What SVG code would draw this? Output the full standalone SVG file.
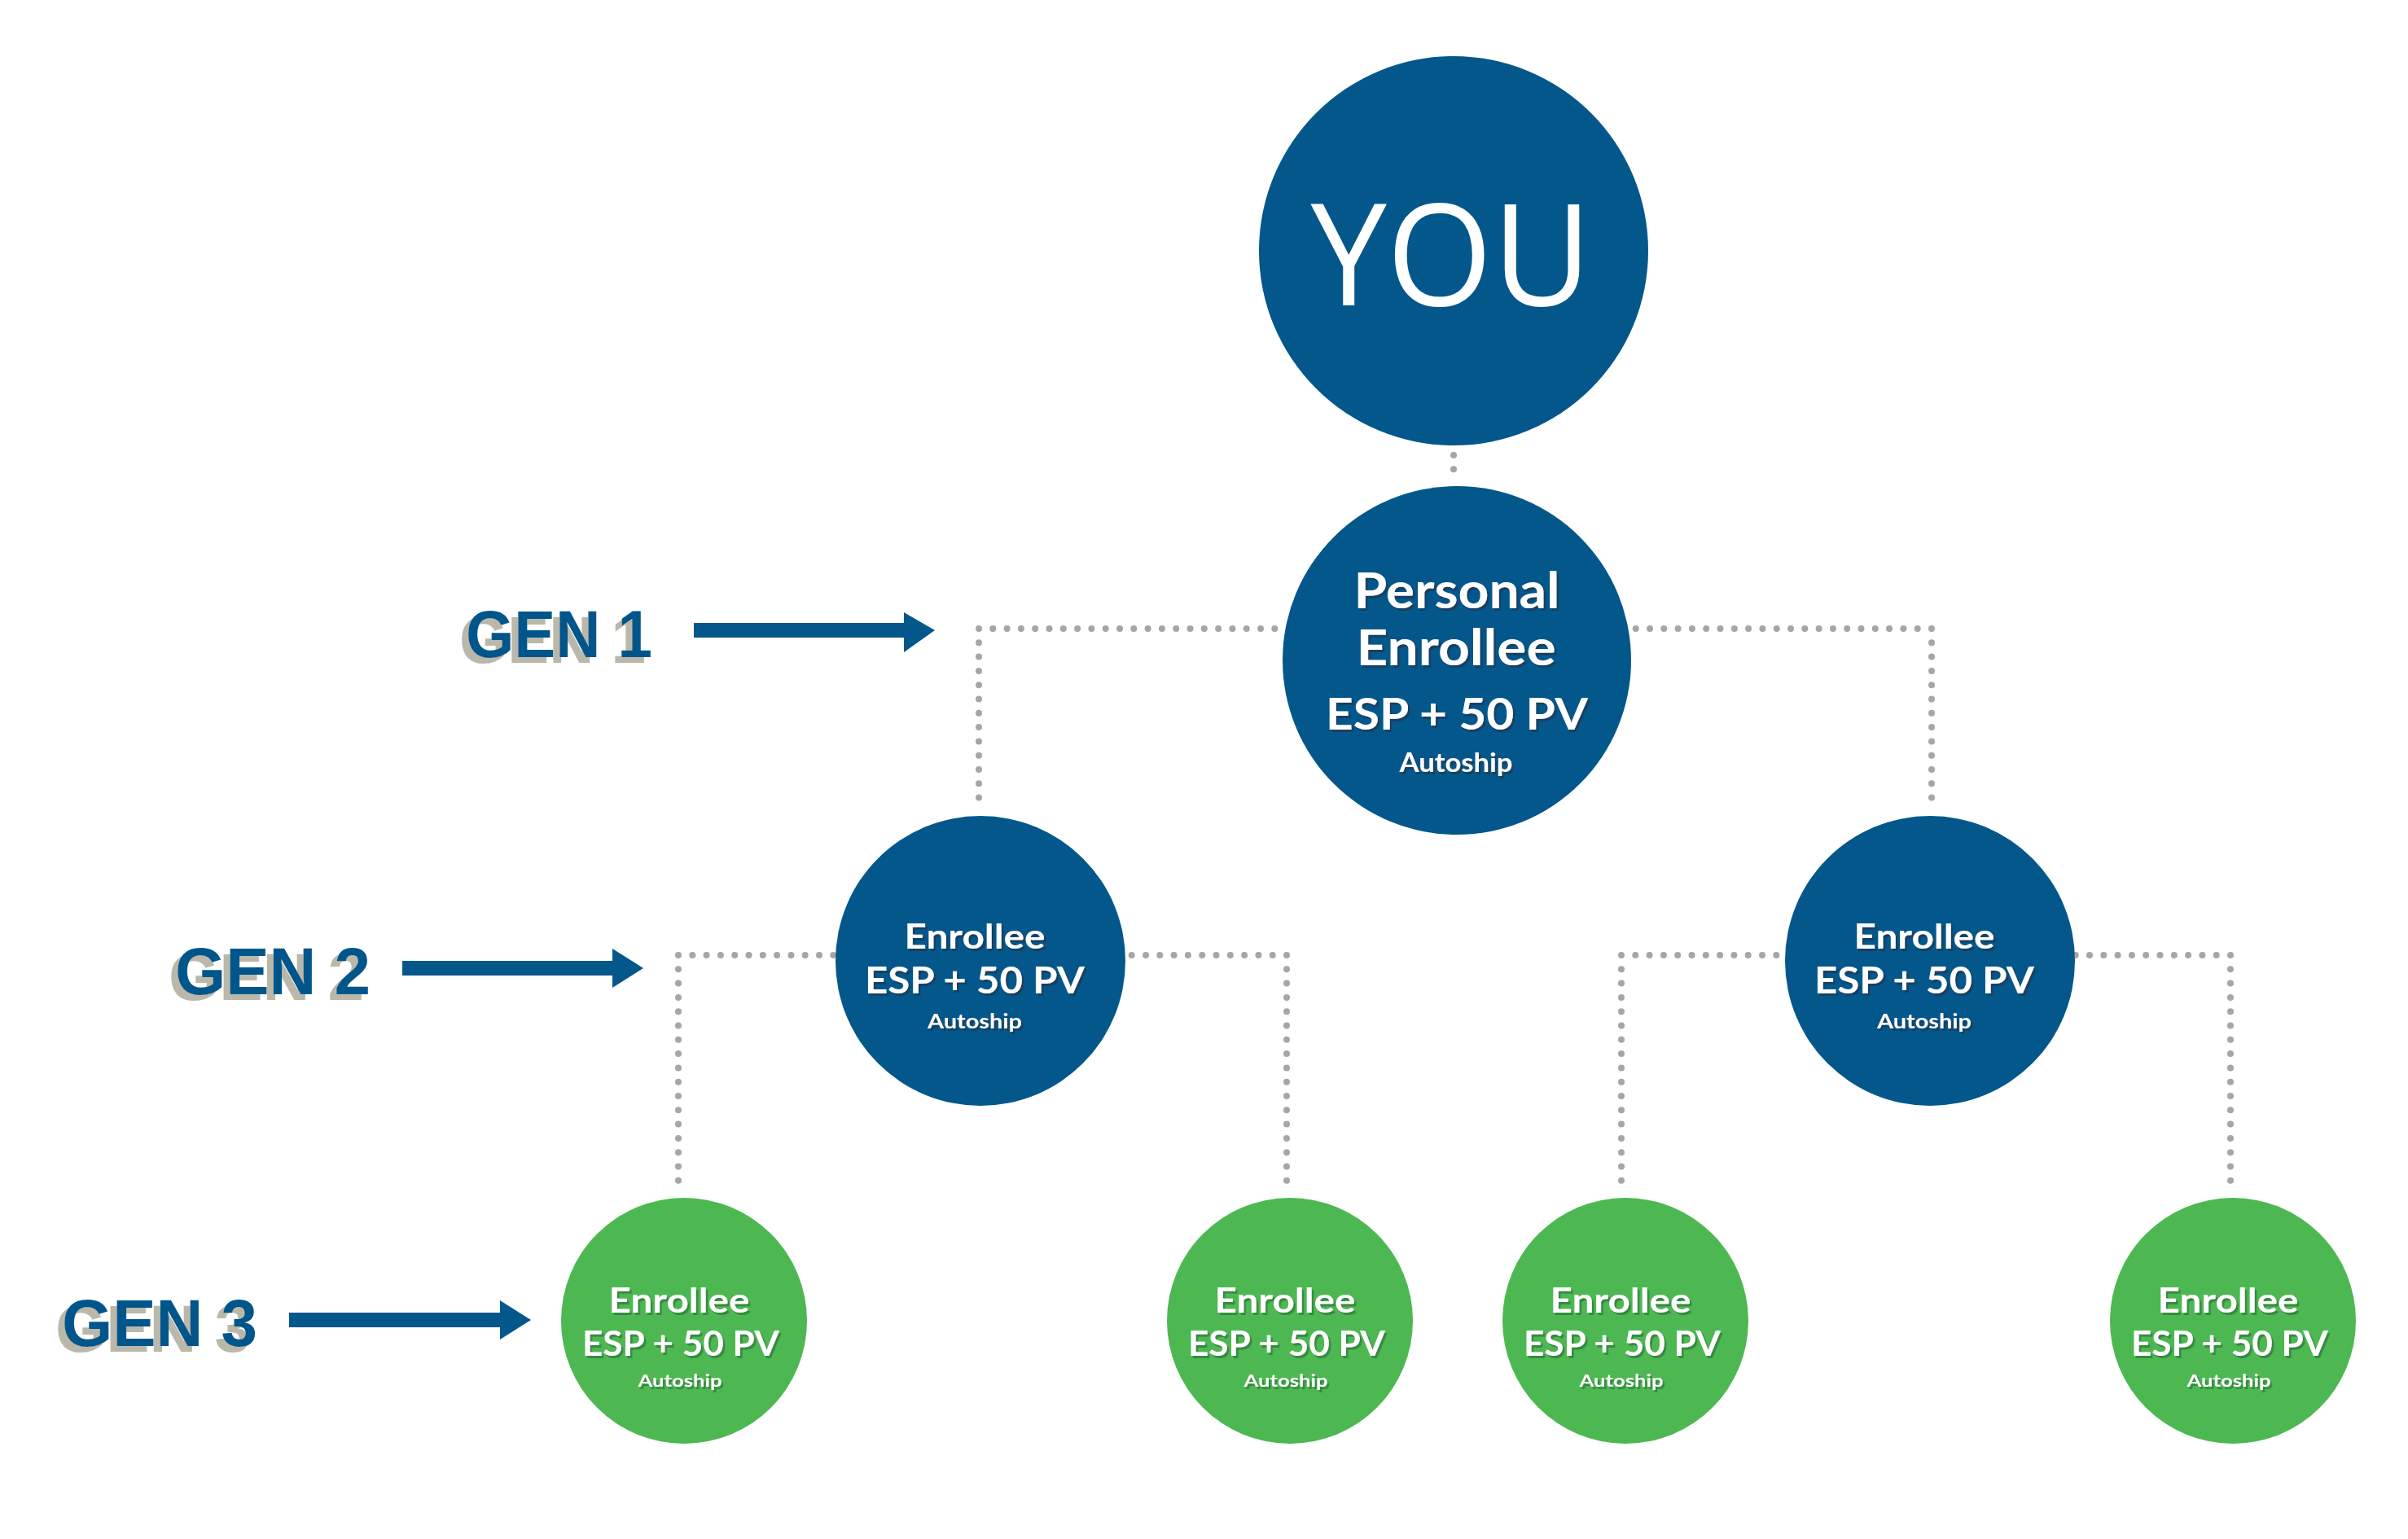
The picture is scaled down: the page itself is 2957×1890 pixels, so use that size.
<svg xmlns="http://www.w3.org/2000/svg" width="2957" height="1890" viewBox="0 0 2957 1890">
<defs>
<filter id="genShadow" x="-20%" y="-20%" width="140%" height="160%">
<feDropShadow dx="-8" dy="7" stdDeviation="0" flood-color="#b9b8aa" flood-opacity="1"/>
</filter>
<filter id="blueShadow" x="-10%" y="-20%" width="120%" height="160%">
<feDropShadow dx="2.5" dy="3" stdDeviation="0.4" flood-color="#123f63" flood-opacity="1"/>
</filter>
<filter id="greenShadow" x="-10%" y="-20%" width="120%" height="160%">
<feDropShadow dx="2.5" dy="3" stdDeviation="0.4" flood-color="#358a3f" flood-opacity="1"/>
</filter>
</defs>
<style>
.blue{fill:#03578b}
.green{fill:#4db852}
.dots{fill:none;stroke:#a7a5a7;stroke-width:8;stroke-linecap:round;stroke-dasharray:0 17.3}
.gen{font-family:"Liberation Sans",Arial,sans-serif;font-weight:700;font-size:82px;fill:#03578b}
.t{font-family:Lato,"Liberation Sans",sans-serif;font-weight:700;fill:#ffffff;text-anchor:middle}
.you{font-family:"Open Sans","Liberation Sans",sans-serif;font-weight:400;font-size:175px;fill:#ffffff;text-anchor:middle}
</style>
<rect width="2957" height="1890" fill="#ffffff"/>

<g id="connectors">
<path class="dots" d="M1785 559 V593"/>
<path class="dots" d="M1202 772 H1590 M1202 772 V996"/>
<path class="dots" d="M2372 772 H1990 M2372 772 V996"/>
<path class="dots" d="M833 1173 H1040 M833 1173 V1462"/>
<path class="dots" d="M1580 1173 H1370 M1580 1173 V1462"/>
<path class="dots" d="M1991 1173 H2205 M1991 1173 V1462"/>
<path class="dots" d="M2739 1173 H2535 M2739 1173 V1462"/>
</g>

<g id="gen-labels">
<g id="gen1">
<text class="gen" x="572" y="807" textLength="229" lengthAdjust="spacingAndGlyphs" filter="url(#genShadow)">GEN 1</text>
<polygon class="blue" points="852,765 1110,765 1110,752 1148,774 1110,801 1110,783 852,783"/>
</g>
<g id="gen2">
<text class="gen" x="215" y="1221" textLength="240" lengthAdjust="spacingAndGlyphs" filter="url(#genShadow)">GEN 2</text>
<polygon class="blue" points="494,1180 752,1180 752,1165 790,1189 752,1213 752,1198 494,1198"/>
</g>
<g id="gen3">
<text class="gen" x="76" y="1653" textLength="240" lengthAdjust="spacingAndGlyphs" filter="url(#genShadow)">GEN 3</text>
<polygon class="blue" points="355,1612 614,1612 614,1597 652,1621 614,1645 614,1630 355,1630"/>
</g>
</g>

<g id="node-you">
<circle class="blue" cx="1785" cy="308" r="239"/>
<text class="you" x="1782" y="375" textLength="345" lengthAdjust="spacingAndGlyphs">YOU</text>
</g>

<g id="node-personal">
<circle class="blue" cx="1789" cy="811" r="214"/>
<g filter="url(#blueShadow)">
<text class="t" x="1789" y="747" font-size="62" textLength="253" lengthAdjust="spacingAndGlyphs">Personal</text>
<text class="t" x="1788" y="817" font-size="62" textLength="245" lengthAdjust="spacingAndGlyphs">Enrollee</text>
<text class="t" x="1789" y="896" font-size="54" textLength="322" lengthAdjust="spacingAndGlyphs">ESP + 50 PV</text>
<text class="t" x="1788" y="948" font-size="32" textLength="139" lengthAdjust="spacingAndGlyphs">Autoship</text>
</g>
</g>

<g id="node-gen2-left">
<circle class="blue" cx="1204" cy="1180" r="178"/>
<g filter="url(#blueShadow)">
<text class="t" x="1197" y="1165" font-size="42" textLength="173" lengthAdjust="spacingAndGlyphs">Enrollee</text>
<text class="t" x="1197" y="1220" font-size="45" textLength="270" lengthAdjust="spacingAndGlyphs">ESP + 50 PV</text>
<text class="t" x="1197" y="1263" font-size="25" textLength="116" lengthAdjust="spacingAndGlyphs">Autoship</text>
</g>
</g>

<g id="node-gen2-right">
<circle class="blue" cx="2370" cy="1180" r="178"/>
<g filter="url(#blueShadow)">
<text class="t" x="2363" y="1165" font-size="42" textLength="173" lengthAdjust="spacingAndGlyphs">Enrollee</text>
<text class="t" x="2363" y="1220" font-size="45" textLength="270" lengthAdjust="spacingAndGlyphs">ESP + 50 PV</text>
<text class="t" x="2363" y="1263" font-size="25" textLength="116" lengthAdjust="spacingAndGlyphs">Autoship</text>
</g>
</g>

<g id="node-gen3-1">
<circle class="green" cx="840" cy="1622" r="151"/>
<g filter="url(#greenShadow)">
<text class="t" x="834" y="1612" font-size="42" textLength="173" lengthAdjust="spacingAndGlyphs">Enrollee</text>
<text class="t" x="836" y="1665" font-size="42" textLength="242" lengthAdjust="spacingAndGlyphs">ESP + 50 PV</text>
<text class="t" x="835" y="1703" font-size="21" textLength="103" lengthAdjust="spacingAndGlyphs">Autoship</text>
</g>
</g>

<g id="node-gen3-2">
<circle class="green" cx="1584" cy="1622" r="151"/>
<g filter="url(#greenShadow)">
<text class="t" x="1578" y="1612" font-size="42" textLength="173" lengthAdjust="spacingAndGlyphs">Enrollee</text>
<text class="t" x="1580" y="1665" font-size="42" textLength="242" lengthAdjust="spacingAndGlyphs">ESP + 50 PV</text>
<text class="t" x="1579" y="1703" font-size="21" textLength="103" lengthAdjust="spacingAndGlyphs">Autoship</text>
</g>
</g>

<g id="node-gen3-3">
<circle class="green" cx="1996" cy="1622" r="151"/>
<g filter="url(#greenShadow)">
<text class="t" x="1990" y="1612" font-size="42" textLength="173" lengthAdjust="spacingAndGlyphs">Enrollee</text>
<text class="t" x="1992" y="1665" font-size="42" textLength="242" lengthAdjust="spacingAndGlyphs">ESP + 50 PV</text>
<text class="t" x="1991" y="1703" font-size="21" textLength="103" lengthAdjust="spacingAndGlyphs">Autoship</text>
</g>
</g>

<g id="node-gen3-4">
<circle class="green" cx="2742" cy="1622" r="151"/>
<g filter="url(#greenShadow)">
<text class="t" x="2736" y="1612" font-size="42" textLength="173" lengthAdjust="spacingAndGlyphs">Enrollee</text>
<text class="t" x="2738" y="1665" font-size="42" textLength="242" lengthAdjust="spacingAndGlyphs">ESP + 50 PV</text>
<text class="t" x="2737" y="1703" font-size="21" textLength="103" lengthAdjust="spacingAndGlyphs">Autoship</text>
</g>
</g>
</svg>
